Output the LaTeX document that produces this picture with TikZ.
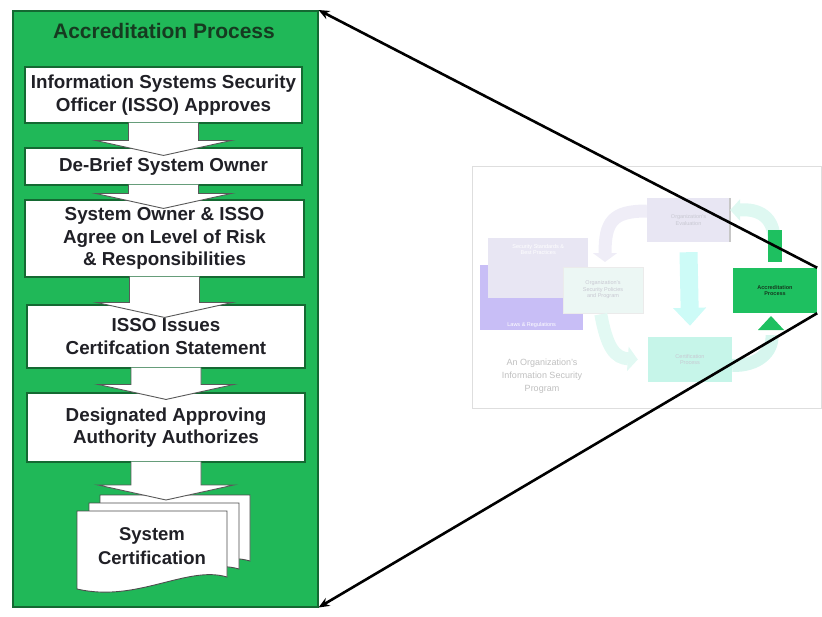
\documentclass[tikz,border=0pt]{standalone}
\usepackage{fontspec}
\setmainfont{Liberation Sans}
\usetikzlibrary{arrows.meta,calc,positioning}

\definecolor{panelgreen}{RGB}{32,184,88}
\definecolor{paneledge}{RGB}{20,105,50}
\definecolor{titleink}{RGB}{22,58,32}
\definecolor{boxink}{RGB}{32,32,38}
\definecolor{fadeink}{RGB}{200,200,210}
\definecolor{lavender}{RGB}{232,230,243}
\definecolor{lilac}{RGB}{200,190,246}
\definecolor{mint}{RGB}{214,246,238}
\definecolor{palemint}{RGB}{236,247,244}
\definecolor{certmint}{RGB}{198,245,233}
\definecolor{smallgreen}{RGB}{30,192,96}

% white block arrow from one step box down into the next
\newcommand{\stepArrow}[3]{%
  \coordinate (arrtop) at (#1.south);
  \coordinate (arrtip) at ($(#1.south |- #2.north)+(0,#3)$);
  \filldraw[flowarrow] ($(arrtop)+(-35,-1)$) -- ($(arrtip)+(-35,-15)$) -- ($(arrtip)+(-68,-15)$)
    -- (arrtip) -- ($(arrtip)+(68,-15)$) -- ($(arrtip)+(35,-15)$) -- ($(arrtop)+(35,-1)$);
}
% one sheet of the document stack, top left corner at #1,#2
\newcommand{\docPage}[2]{%
  \filldraw[docpage, shift={(#1,#2)}] (0,0) -- (150,0) -- (150,66)
    .. controls (110,54) and (60,92) .. (0,78) -- cycle;
}

\begin{document}
\begin{tikzpicture}[x=1pt,y=-1pt,
    stepbox/.style={draw=paneledge, line width=1.1pt, fill=white, text=boxink, align=center,
      font=\bfseries\fontsize{18.8}{22.5}\selectfont, inner sep=0pt},
    flowarrow/.style={fill=white, draw=black!65, line width=0.9pt, line join=miter},
    docpage/.style={fill=white, draw=black!70, line width=0.9pt},
    zoomline/.style={line width=2.6pt, {Stealth[length=11pt,width=9pt]}-},
    smallbox/.style={inner sep=0pt, align=center, font=\fontsize{5.5}{6.5}\selectfont, text=fadeink},
    band/.style={line width=13pt}]
\useasboundingbox (0,0) rectangle (822,616);

% left panel
\node[fill=panelgreen, draw=paneledge, line width=1.5pt, minimum width=305, minimum height=596,
  anchor=north west, inner sep=0pt] (panel) at (12,10) {};
\node[text=titleink, font=\bfseries\fontsize{21}{24}\selectfont] (title) at (164,31) {Accreditation Process};

\node[stepbox, minimum width=277, minimum height=56] (isso) at (163.5,95) {Information Systems Security\\Officer (ISSO) Approves};
\node[stepbox, minimum width=277, minimum height=37] (debrief) at (163.5,166.5) {De-Brief System Owner};
\node[stepbox, minimum width=279, minimum height=77] (agree) at (164.5,238.5) {System Owner \& ISSO\\Agree on Level of Risk\\\& Responsibilities};
\node[stepbox, minimum width=278, minimum height=63] (issues) at (166,336.5) {ISSO Issues\\Certifcation Statement};
\node[stepbox, minimum width=278, minimum height=69] (daa) at (166,427.5) {Designated Approving\\Authority Authorizes};

% document stack
\docPage{100}{495}
\docPage{89}{503}
\docPage{77}{511}
\node[minimum width=150, minimum height=70, anchor=north west, inner sep=0pt] (stack) at (100,495) {};
\node[text=boxink, align=center, font=\bfseries\fontsize{18.5}{24}\selectfont] (cert) at (152,546) {System\\Certification};

\stepArrow{isso}{debrief}{8}
\stepArrow{debrief}{agree}{9}
\stepArrow{agree}{issues}{13}
\stepArrow{issues}{daa}{7}
\stepArrow{daa}{stack}{5}

% faded overview on the right
\draw[black!13, line width=0.9pt] (472,166) rectangle (821,408);

\node[smallbox, fill=lilac, minimum width=103, minimum height=65, anchor=north west] (laws) at (480,265) {};
\node[smallbox, text=white, anchor=south] at ($(laws.south)+(0,-3)$) {Laws \& Regulations};
\node[smallbox, fill=lavender, minimum width=100, minimum height=60, anchor=north west, text=white] (standards) at (488,238) {};
\node[smallbox, text=white, anchor=north] at ($(standards.north)+(0,6)$) {Security Standards \&\\Best Practices};

\node[smallbox, fill=lavender, minimum width=83, minimum height=44] (eval) at (688.5,220) {Organization's\\Evaluation};
\draw[black!22, line width=1.5pt] (eval.north east) -- (eval.south east);

\draw[band, draw=lavender!70, -{Triangle[length=9pt,width=24pt]}] (eval.west |- 0,211)
  .. controls (612,211) and (605,222) .. (605,262);

\node[smallbox, fill=palemint, draw=black!8, minimum width=80, minimum height=46] (policies) at (603,290) {Organization's\\Security Policies\\and Program};

\node[smallbox, fill=certmint, minimum width=84, minimum height=45] (certproc) at (690,359.5) {Certification\\Process};
\node[smallbox, fill=smallgreen, minimum width=84, minimum height=45, text=titleink,
  font=\bfseries\fontsize{5.5}{6.5}\selectfont] (acc) at (775,290.5) {Accreditation\\Process};

\draw[band, line width=18pt, draw=mint!80!cyan!60, -{Triangle[length=18pt,width=32pt]}] ($(eval.south)+(0,10)$) -- ($(certproc.north)+(0,-11)$);
\draw[band, draw=mint!70, -{Triangle[length=10pt,width=24pt]}] ($(policies.south west)+(38,1)$)
  .. controls (607,348) and (615,358) .. ($(certproc.west)+(-10,0)$);
\draw[band, draw=mint] ($(certproc.east)+(0,6)$) .. controls (758,366) and (773,352) .. (772,335);
\fill[smallgreen] (758,330) -- (771,316) -- (784,330) -- cycle;
\draw[band, draw=mint!80] (774,240) .. controls (774,218) and (760,208) .. ($(eval.east)+(8,-10)$);
\fill[mint!80] ($(eval.east)+(10,-21)$) -- ($(eval.east)+(0,-10)$) -- ($(eval.east)+(10,1)$) -- cycle;
\fill[smallgreen] ($(acc.north)+(-7,-6)$) rectangle ($(acc.north)+(7,-38)$);

\node[text=black!25, align=center, font=\fontsize{9}{13}\selectfont] (program) at (542,376)
  {An Organization's\\Information Security\\Program};

% zoom lines back to the left panel
\draw[zoomline] (panel.north east) -- (acc.north east);
\draw[zoomline] (panel.south east) -- (acc.south east);
\end{tikzpicture}
\end{document}
